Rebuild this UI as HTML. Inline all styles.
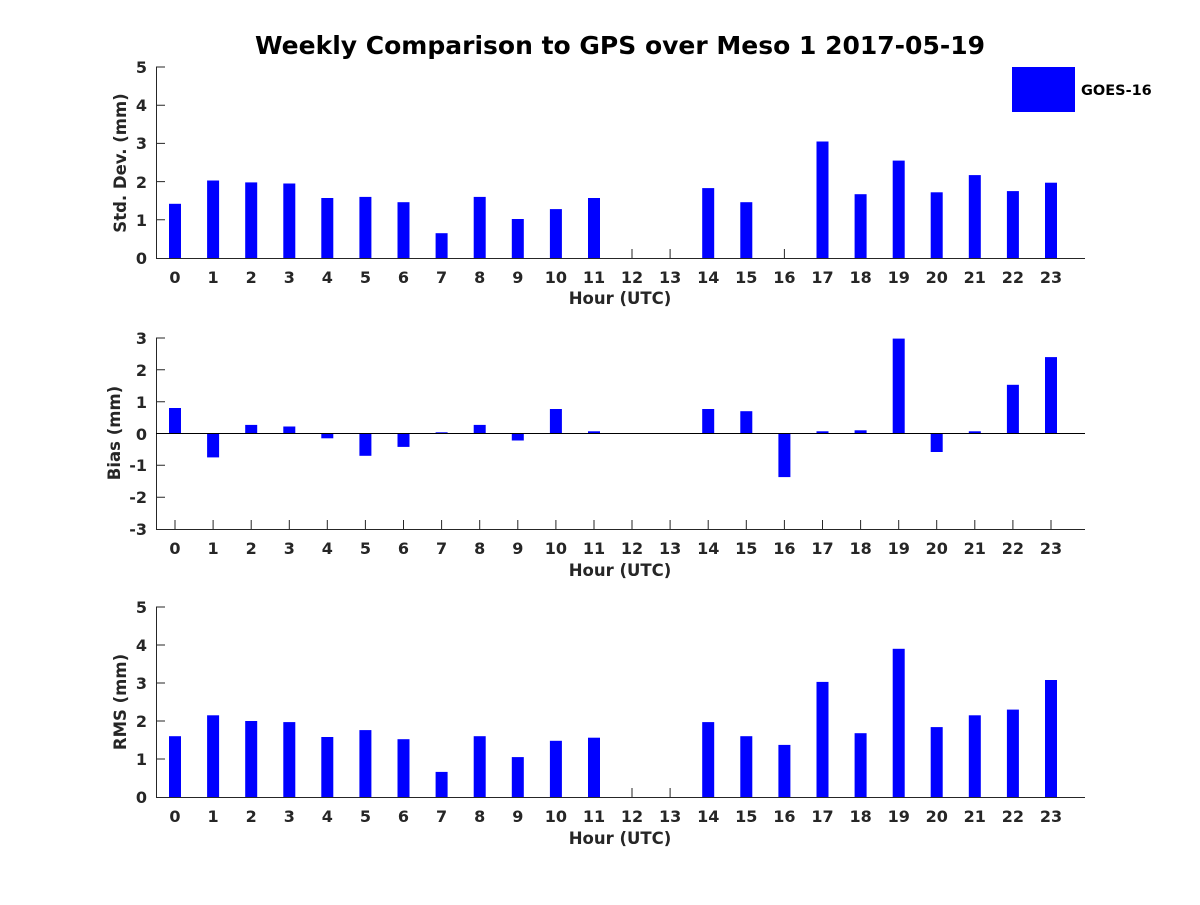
<!DOCTYPE html>
<html><head><meta charset="utf-8"><style>
html,body{margin:0;padding:0;background:#fff}
svg text{font-family:"DejaVu Sans","Liberation Sans",sans-serif;font-weight:bold;fill:#262626}
.t{font-size:16px;text-anchor:middle}
.y{font-size:16px;text-anchor:end}
.l{font-size:16.5px;text-anchor:middle}
</style></head><body>
<svg width="1200" height="900" xmlns="http://www.w3.org/2000/svg">
<rect width="1200" height="900" fill="#fff"/>
<text x="620" y="54" style="font-size:25px;text-anchor:middle;fill:#000">Weekly Comparison to GPS over Meso 1 2017-05-19</text>
<rect x="1012" y="67" width="63" height="45" fill="#0000ff"/>
<text x="1081" y="95" style="font-size:14.5px;fill:#000">GOES-16</text>

<!-- Panel 1 -->
<g fill="#0000ff" transform="translate(0,258) scale(1,-1)">
<rect x="169" y="0" width="12" height="54.2"/><rect x="207.1" y="0" width="12" height="77.5"/><rect x="245.2" y="0" width="12" height="75.6"/><rect x="283.3" y="0" width="12" height="74.5"/><rect x="321.3" y="0" width="12" height="60"/><rect x="359.4" y="0" width="12" height="61.1"/><rect x="397.5" y="0" width="12" height="55.8"/><rect x="435.6" y="0" width="12" height="24.8"/><rect x="473.7" y="0" width="12" height="61.1"/><rect x="511.8" y="0" width="12" height="39"/><rect x="549.9" y="0" width="12" height="48.9"/><rect x="588" y="0" width="12" height="60"/><rect x="702.2" y="0" width="12" height="69.9"/><rect x="740.3" y="0" width="12" height="55.8"/><rect x="816.5" y="0" width="12" height="116.5"/><rect x="854.6" y="0" width="12" height="63.8"/><rect x="892.7" y="0" width="12" height="97.4"/><rect x="930.7" y="0" width="12" height="65.7"/><rect x="968.8" y="0" width="12" height="82.9"/><rect x="1006.9" y="0" width="12" height="66.9"/><rect x="1045" y="0" width="12" height="75.3"/>
</g>
<g stroke="#262626" stroke-width="1" fill="none">
<path d="M156.5 67V258.5H1085"/>
<path d="M156 67h9M156 105.2h9M156 143.4h9M156 181.6h9M156 219.8h9"/>
<path d="M632 258v-9M670.1 258v-9M784.4 258v-9"/>
</g>
<text x="147" y="264" class="y">0</text><text x="147" y="226" class="y">1</text><text x="147" y="188" class="y">2</text><text x="147" y="149" class="y">3</text><text x="147" y="111" class="y">4</text><text x="147" y="73" class="y">5</text>
<text transform="translate(126,163) rotate(-90)" class="l">Std. Dev. (mm)</text>
<g>
<text class="t" x="175" y="283">0</text><text class="t" x="213.1" y="283">1</text><text class="t" x="251.2" y="283">2</text><text class="t" x="289.3" y="283">3</text><text class="t" x="327.3" y="283">4</text><text class="t" x="365.4" y="283">5</text><text class="t" x="403.5" y="283">6</text><text class="t" x="441.6" y="283">7</text><text class="t" x="479.7" y="283">8</text><text class="t" x="517.8" y="283">9</text><text class="t" x="555.9" y="283">10</text><text class="t" x="594" y="283">11</text><text class="t" x="632" y="283">12</text><text class="t" x="670.1" y="283">13</text><text class="t" x="708.2" y="283">14</text><text class="t" x="746.3" y="283">15</text><text class="t" x="784.4" y="283">16</text><text class="t" x="822.5" y="283">17</text><text class="t" x="860.6" y="283">18</text><text class="t" x="898.7" y="283">19</text><text class="t" x="936.7" y="283">20</text><text class="t" x="974.8" y="283">21</text><text class="t" x="1012.9" y="283">22</text><text class="t" x="1051" y="283">23</text>
</g>
<text x="620" y="304" class="l">Hour (UTC)</text>

<!-- Panel 2 -->
<g fill="#0000ff" transform="translate(0,433.5) scale(1,-1)">
<rect x="169" y="0" width="12" height="25.5"/><rect x="207.1" y="-23.9" width="12" height="23.9"/><rect x="245.2" y="0" width="12" height="8.6"/><rect x="283.3" y="0" width="12" height="7"/><rect x="321.3" y="-4.8" width="12" height="4.8"/><rect x="359.4" y="-22.3" width="12" height="22.3"/><rect x="397.5" y="-13.4" width="12" height="13.4"/><rect x="435.6" y="0" width="12" height="1.2"/><rect x="473.7" y="0" width="12" height="8.6"/><rect x="511.8" y="-7" width="12" height="7"/><rect x="549.9" y="0" width="12" height="24.5"/><rect x="588" y="0" width="12" height="2.2"/><rect x="702.2" y="0" width="12" height="24.5"/><rect x="740.3" y="0" width="12" height="22.3"/><rect x="778.4" y="-43.6" width="12" height="43.6"/><rect x="816.5" y="0" width="12" height="2.2"/><rect x="854.6" y="0" width="12" height="3.2"/><rect x="892.7" y="0" width="12" height="94.9"/><rect x="930.7" y="-18.5" width="12" height="18.5"/><rect x="968.8" y="0" width="12" height="2.2"/><rect x="1006.9" y="0" width="12" height="48.7"/><rect x="1045" y="0" width="12" height="76.4"/>
</g>
<g stroke="#262626" stroke-width="1" fill="none">
<path d="M156.5 338V529.5H1085"/>
<path d="M156 433.5H1085" stroke="#000"/>
<path d="M156 338h9M156 369.8h9M156 401.7h9M156 465.3h9M156 497.2h9"/>
<path d="M175 529v-9M213.1 529v-9M251.2 529v-9M289.3 529v-9M327.3 529v-9M365.4 529v-9M403.5 529v-9M441.6 529v-9M479.7 529v-9M517.8 529v-9M555.9 529v-9M594 529v-9M632 529v-9M670.1 529v-9M708.2 529v-9M746.3 529v-9M784.4 529v-9M822.5 529v-9M860.6 529v-9M898.7 529v-9M936.7 529v-9M974.8 529v-9M1012.9 529v-9M1051 529v-9"/>
</g>
<text x="147" y="344" class="y">3</text><text x="147" y="376" class="y">2</text><text x="147" y="408" class="y">1</text><text x="147" y="440" class="y">0</text><text x="147" y="471" class="y">-1</text><text x="147" y="503" class="y">-2</text><text x="147" y="535" class="y">-3</text>
<text transform="translate(120,433) rotate(-90)" class="l">Bias (mm)</text>
<g transform="translate(0,271)">
<text class="t" x="175" y="283">0</text><text class="t" x="213.1" y="283">1</text><text class="t" x="251.2" y="283">2</text><text class="t" x="289.3" y="283">3</text><text class="t" x="327.3" y="283">4</text><text class="t" x="365.4" y="283">5</text><text class="t" x="403.5" y="283">6</text><text class="t" x="441.6" y="283">7</text><text class="t" x="479.7" y="283">8</text><text class="t" x="517.8" y="283">9</text><text class="t" x="555.9" y="283">10</text><text class="t" x="594" y="283">11</text><text class="t" x="632" y="283">12</text><text class="t" x="670.1" y="283">13</text><text class="t" x="708.2" y="283">14</text><text class="t" x="746.3" y="283">15</text><text class="t" x="784.4" y="283">16</text><text class="t" x="822.5" y="283">17</text><text class="t" x="860.6" y="283">18</text><text class="t" x="898.7" y="283">19</text><text class="t" x="936.7" y="283">20</text><text class="t" x="974.8" y="283">21</text><text class="t" x="1012.9" y="283">22</text><text class="t" x="1051" y="283">23</text>
</g>
<text x="620" y="576" class="l">Hour (UTC)</text>

<!-- Panel 3 -->
<g fill="#0000ff" transform="translate(0,797) scale(1,-1)">
<rect x="169" y="0" width="12" height="60.8"/><rect x="207.1" y="0" width="12" height="81.7"/><rect x="245.2" y="0" width="12" height="76"/><rect x="283.3" y="0" width="12" height="74.9"/><rect x="321.3" y="0" width="12" height="60"/><rect x="359.4" y="0" width="12" height="66.9"/><rect x="397.5" y="0" width="12" height="57.8"/><rect x="435.6" y="0" width="12" height="25.1"/><rect x="473.7" y="0" width="12" height="60.8"/><rect x="511.8" y="0" width="12" height="39.9"/><rect x="549.9" y="0" width="12" height="56.2"/><rect x="588" y="0" width="12" height="59.3"/><rect x="702.2" y="0" width="12" height="74.9"/><rect x="740.3" y="0" width="12" height="60.8"/><rect x="778.4" y="0" width="12" height="52.1"/><rect x="816.5" y="0" width="12" height="115.1"/><rect x="854.6" y="0" width="12" height="63.8"/><rect x="892.7" y="0" width="12" height="148.2"/><rect x="930.7" y="0" width="12" height="69.9"/><rect x="968.8" y="0" width="12" height="81.7"/><rect x="1006.9" y="0" width="12" height="87.4"/><rect x="1045" y="0" width="12" height="117"/>
</g>
<g stroke="#262626" stroke-width="1" fill="none">
<path d="M156.5 607V797.5H1085"/>
<path d="M156 607h9M156 645h9M156 683h9M156 721h9M156 759h9"/>
<path d="M632 797v-9M670.1 797v-9"/>
</g>
<text x="147" y="803" class="y">0</text><text x="147" y="765" class="y">1</text><text x="147" y="727" class="y">2</text><text x="147" y="689" class="y">3</text><text x="147" y="651" class="y">4</text><text x="147" y="613" class="y">5</text>
<text transform="translate(126,702) rotate(-90)" class="l">RMS (mm)</text>
<g transform="translate(0,539)">
<text class="t" x="175" y="283">0</text><text class="t" x="213.1" y="283">1</text><text class="t" x="251.2" y="283">2</text><text class="t" x="289.3" y="283">3</text><text class="t" x="327.3" y="283">4</text><text class="t" x="365.4" y="283">5</text><text class="t" x="403.5" y="283">6</text><text class="t" x="441.6" y="283">7</text><text class="t" x="479.7" y="283">8</text><text class="t" x="517.8" y="283">9</text><text class="t" x="555.9" y="283">10</text><text class="t" x="594" y="283">11</text><text class="t" x="632" y="283">12</text><text class="t" x="670.1" y="283">13</text><text class="t" x="708.2" y="283">14</text><text class="t" x="746.3" y="283">15</text><text class="t" x="784.4" y="283">16</text><text class="t" x="822.5" y="283">17</text><text class="t" x="860.6" y="283">18</text><text class="t" x="898.7" y="283">19</text><text class="t" x="936.7" y="283">20</text><text class="t" x="974.8" y="283">21</text><text class="t" x="1012.9" y="283">22</text><text class="t" x="1051" y="283">23</text>
</g>
<text x="620" y="844" class="l">Hour (UTC)</text>
</svg>
</body></html>
